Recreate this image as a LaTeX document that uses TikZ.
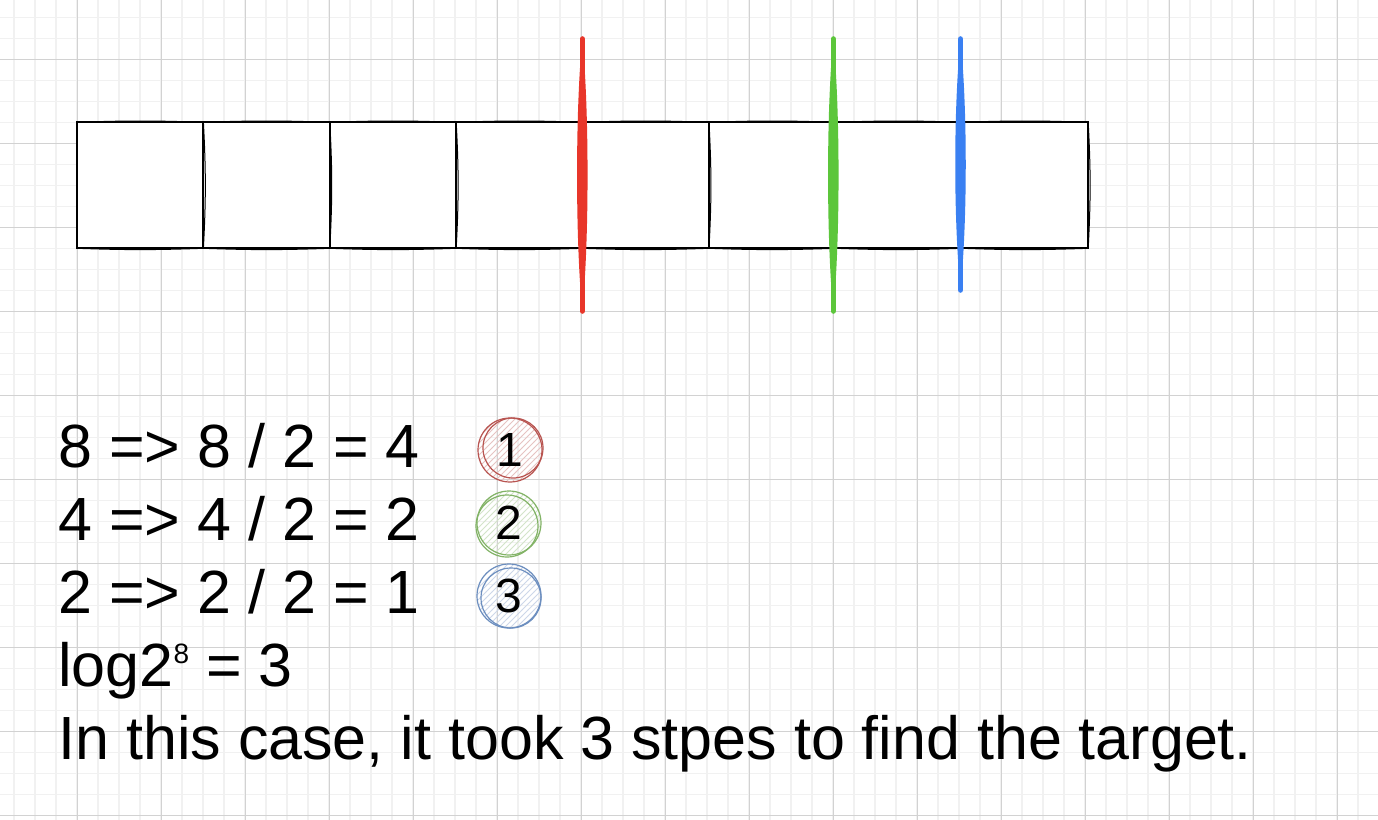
\documentclass[tikz,border=0pt]{standalone}
\usepackage{fontspec}
\setmainfont{Liberation Sans}
\usetikzlibrary{positioning,patterns}

\definecolor{gridmajor}{HTML}{D2D2D2}
\definecolor{gridminor}{HTML}{F1F1F1}
\definecolor{cutred}{HTML}{E8362A}
\definecolor{cutgreen}{HTML}{5CC63B}
\definecolor{cutblue}{HTML}{3A80F2}
\definecolor{ringred}{HTML}{B85450}
\definecolor{ringgreen}{HTML}{82B366}
\definecolor{ringblue}{HTML}{6C8EBF}

% lens shaped marker: colour, x, top, bottom
\newcommand{\cutmark}[4]{%
  \fill[#1] (#2,#3) .. controls (#2+7,#3+70) and (#2+7,#4-70) .. (#2,#4)
                    .. controls (#2-7,#4-70) and (#2-7,#3+70) .. (#2,#3);
  \draw[#1, line width=2.8pt, line cap=round] (#2,#3) -- (#2,#4);
}

\tikzset{
  cell/.style={draw, line width=1pt, minimum width=63.2pt, minimum height=63pt,
    inner sep=0pt, outer sep=0pt},
  sketch/.style={line width=0.5pt},
  txt/.style={anchor=base west, inner sep=0pt, font=\fontsize{30.5}{36}\selectfont},
  ring/.style={circle, draw=#1, line width=0.6pt, minimum size=32pt, inner sep=0pt,
    pattern=north east lines, pattern color=#1!35,
    font=\fontsize{24}{24}\selectfont},
}

\begin{document}
\begin{tikzpicture}[x=0.5pt, y=-0.5pt]
\useasboundingbox (0,0) rectangle (1378,820);
\fill[white] (0,0) rectangle (1378,820);

% grid
\foreach \x in {14,35,...,1378} \draw[gridminor, line width=0.75pt] (\x,0) -- (\x,820);
\foreach \y in {17.3,38.3,...,820} \draw[gridminor, line width=0.75pt] (0,\y) -- (1378,\y);
\foreach \x in {77,161,...,1378} \draw[gridmajor, line width=0.5pt] (\x,0) -- (\x,820);
\foreach \y in {59.3,143.3,...,820} \draw[gridmajor, line width=0.5pt] (0,\y) -- (1378,\y);

% array
\node[cell, fill=white] (b1) at (140.2,185.3) {};
\foreach \i [count=\j from 1] in {2,...,8}
  \node[cell, fill=white, right=0pt of b\j] (b\i) {};
\foreach \i in {1,...,8} {
  \draw[sketch] (b\i.north west) to[bend left=2] (b\i.north east);
  \draw[sketch] (b\i.south west) to[bend right=2] (b\i.south east);
  \draw[sketch] (b\i.north east) to[bend left=3] (b\i.south east);
}

% splits
\cutmark{cutred}{582.3}{39}{311}
\cutmark{cutgreen}{833.3}{39}{311}
\cutmark{cutblue}{960.5}{39}{290}

% steps
\node[txt] (l1) at (58,467) {8 => 8 / 2 = 4};
\node[txt, below=36.6pt of l1.base west, anchor=base west] (l2) {4 => 4 / 2 = 2};
\node[txt, below=36.6pt of l2.base west, anchor=base west] (l3) {2 => 2 / 2 = 1};
\node[txt, below=36.6pt of l3.base west, anchor=base west] (l4)
  {log2\raisebox{11.5pt}{\fontsize{14}{14}\selectfont 8} = 3};
\node[txt, below=36.6pt of l4.base west, anchor=base west] (l5)
  {In this case, it took 3 stpes to find the target.};

\node[ring=ringred] (c1) at (510,450) {1};
\node[ring=ringgreen] (c2) at (509,523) {2};
\node[ring=ringblue] (c3) at (509,596) {3};
\draw[ringred, line width=0.6pt] ([shift={(3,-2)}]c1.center) circle[radius=30];
\draw[ringgreen, line width=0.6pt] ([shift={(-2,3)}]c2.center) circle[radius=31];
\draw[ringblue, line width=0.6pt] ([shift={(2,2)}]c3.center) circle[radius=30];

\end{tikzpicture}
\end{document}
